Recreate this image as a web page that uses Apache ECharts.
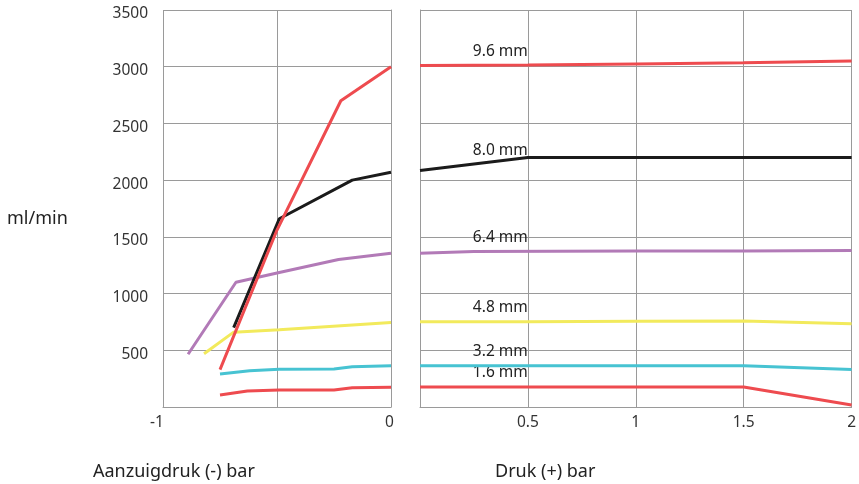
<!DOCTYPE html>
<html><head><meta charset="utf-8">
<script src="https://cdn.jsdelivr.net/npm/echarts@6/dist/echarts.min.js"></script>
<style>html,body{margin:0;padding:0;background:#fff}#c{width:859px;height:484px}</style>
</head><body><div id="c"></div>
<script>
// Left panel: suction pressure (-) bar, [x, ml/min]
const suct96 = [[-0.75, 330], [-0.5, 1560], [-0.22, 2700], [0, 3000]];
const suct80 = [[-0.69, 700], [-0.49, 1660], [-0.17, 2000], [0, 2070]];
const suct64 = [[-0.89, 465], [-0.68, 1100], [-0.49, 1185], [-0.23, 1300], [0, 1355]];
const suct48 = [[-0.82, 470], [-0.69, 660], [-0.49, 680], [0, 745]];
const suct32 = [[-0.75, 290], [-0.62, 320], [-0.49, 333], [-0.25, 335], [-0.17, 355], [0, 364]];
const suct16 = [[-0.75, 106], [-0.63, 141], [-0.49, 150], [-0.25, 150], [-0.17, 170], [0, 174]];
// Right panel: pressure (+) bar
const pres96 = [[0, 3010], [0.5, 3015], [1, 3025], [1.5, 3035], [2, 3050]];
const pres80 = [[0, 2085], [0.5, 2200], [1, 2200], [1.5, 2200], [2, 2200]];
const pres64 = [[0, 1355], [0.25, 1370], [1, 1375], [1.5, 1375], [2, 1380]];
const pres48 = [[0, 752], [0.5, 752], [1, 755], [1.5, 758], [2, 735]];
const pres32 = [[0, 364], [0.5, 364], [1, 364], [1.5, 364], [2, 330]];
const pres16 = [[0, 176], [0.5, 176], [1, 176], [1.5, 176], [2, 18]];
const sizeLabels = ['9.6 mm', '8.0 mm', '6.4 mm', '4.8 mm', '3.2 mm', '1.6 mm'];
const labelX = 0.245;
const colors = ['#ee4b4f', '#1b1b1b', '#b27ab7', '#f2ea5c', '#47c3d2', '#ee4b4f'];

const leftData = [suct96, suct80, suct64, suct48, suct32, suct16];
const rightData = [pres96, pres80, pres64, pres48, pres32, pres16];

const font = 'Noto Sans';
const gridLine = {lineStyle: {color: '#9a9a9a', width: 1}};
function interp(arr, x) {
  for (let i = 0; i < arr.length - 1; i++) {
    if (x >= arr[i][0] && x <= arr[i+1][0]) {
      const t = (x - arr[i][0]) / (arr[i+1][0] - arr[i][0]);
      return arr[i][1] + t * (arr[i+1][1] - arr[i][1]);
    }
  }
  return arr[0][1];
}
const series = [];
leftData.forEach((d, i) => series.push({
  type: 'line', xAxisIndex: 0, yAxisIndex: 0, data: d, symbol: 'none',
  lineStyle: {color: colors[i], width: 3}, z: 10 - i
}));
rightData.forEach((d, i) => series.push({
  type: 'line', xAxisIndex: 1, yAxisIndex: 1, data: d, symbol: 'none',
  lineStyle: {color: colors[i], width: 3}, z: 10 - i,
  markPoint: {
    symbol: 'circle', symbolSize: 0, silent: true,
    data: [{coord: [labelX, interp(d, labelX)], value: sizeLabels[i]}],
    label: {show: true, formatter: sizeLabels[i], position: [0, -6], align: 'left', verticalAlign: 'bottom',
      color: '#222', fontSize: 15.5, fontFamily: font}
  }
}));

const tStyle = {fontSize: 18, fontWeight: 'normal', color: '#222', fontFamily: font};
const chart = echarts.init(document.getElementById('c'), null, {renderer: 'canvas'});
chart.setOption({
  animation: false,
  backgroundColor: '#fff',
  title: [
    {text: 'ml/min', left: 2, top: 205, textStyle: tStyle},
    {text: 'Aanzuigdruk (-) bar', left: 88, top: 458, textStyle: tStyle},
    {text: 'Druk (+) bar', left: 490, top: 458, textStyle: tStyle}
  ],
  grid: [
    {left: 163, right: 468, top: 10, bottom: 77, show: false},
    {left: 420, right: 7, top: 10, bottom: 77, show: false}
  ],
  xAxis: [
    {type: 'value', gridIndex: 0, min: -1, max: 0, interval: 0.5,
      axisLine: {show: true, lineStyle: {color: '#9a9a9a'}}, axisTick: {show: false},
      splitLine: {show: true, ...gridLine},
      axisLabel: {margin: 8, fontSize: 15.5, color: '#333', fontFamily: font,
        formatter: v => (v === -1 ? '{m|-1}' : (Math.abs(v - Math.round(v)) < 1e-9 ? '{n|' + Math.round(v) + '}' : '')),
        rich: {m: {padding: [0, 12, 0, 0], fontSize: 15.5, color: '#333', fontFamily: font},
               n: {padding: [0, 3, 0, 0], fontSize: 15.5, color: '#333', fontFamily: font}}}},
    {type: 'value', gridIndex: 1, min: 0, max: 2, interval: 0.5,
      axisLine: {show: true, lineStyle: {color: '#9a9a9a'}}, axisTick: {show: false},
      splitLine: {show: true, ...gridLine},
      axisLabel: {margin: 8, fontSize: 15.5, color: '#333', fontFamily: font, showMinLabel: false,
        formatter: v => (v === 0 ? '' : String(v))}}
  ],
  yAxis: [
    {type: 'value', gridIndex: 0, min: 0, max: 3500, interval: 500,
      axisLine: {show: true, lineStyle: {color: '#9a9a9a'}}, axisTick: {show: false},
      splitLine: {show: true, ...gridLine},
      axisLabel: {margin: 15, fontSize: 15.5, color: '#333', fontFamily: font,
        formatter: v => (v === 0 ? '' : '{a|' + v + '}'),
        rich: {a: {padding: [8, 0, 0, 0], fontSize: 15.5, color: '#333', fontFamily: font}}}},
    {type: 'value', gridIndex: 1, min: 0, max: 3500, interval: 500,
      axisLine: {show: true, lineStyle: {color: '#9a9a9a'}}, axisTick: {show: false},
      splitLine: {show: true, ...gridLine}, axisLabel: {show: false}}
  ],
  series: series
});
</script></body></html>
